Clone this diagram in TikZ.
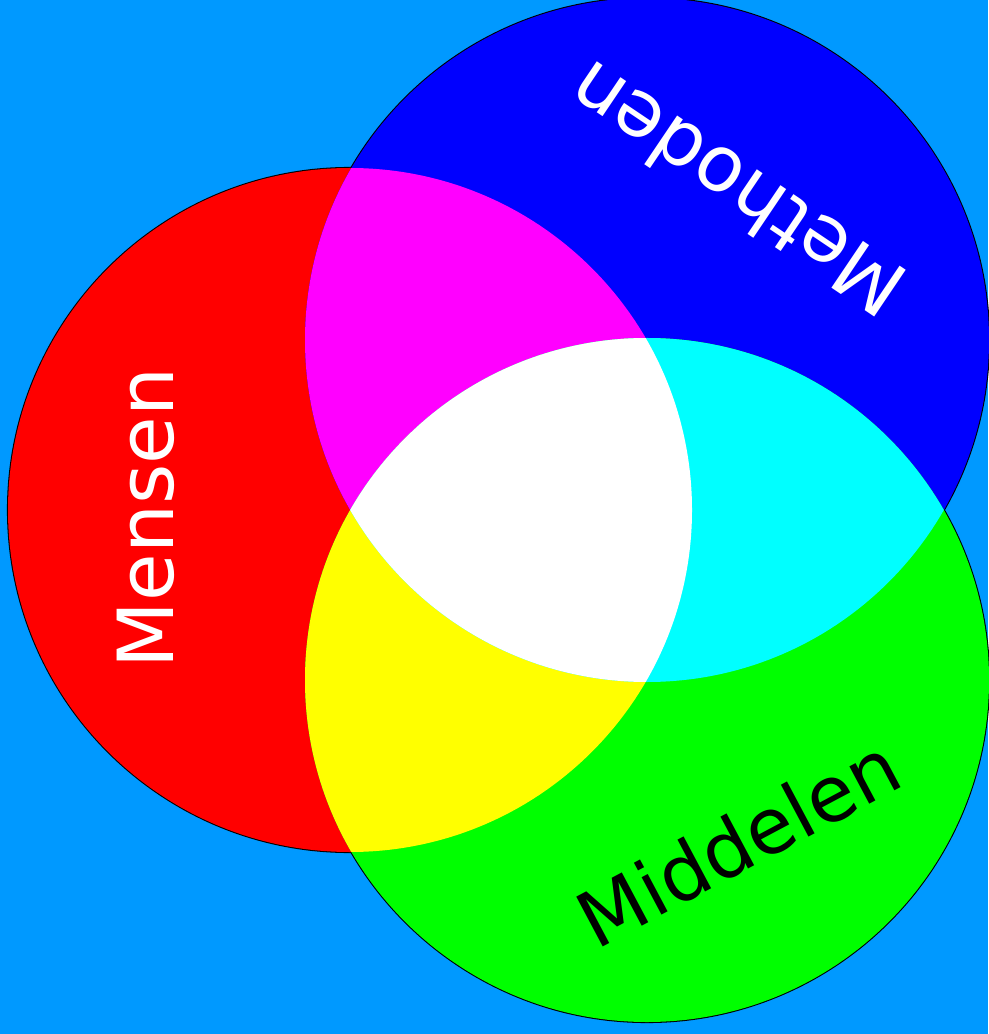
\documentclass[tikz,border=0pt]{standalone}
\usepackage{fontspec}
\setmainfont{DejaVu Sans}
\usepackage{xcolor}
\usepackage{tikz}
\definecolor{skyBg}{RGB}{0,153,255}
\definecolor{rgbRed}{RGB}{255,0,0}
\definecolor{rgbBlue}{RGB}{0,0,255}
\definecolor{rgbGreen}{RGB}{0,255,0}
\definecolor{mixMagenta}{RGB}{255,0,255}
\definecolor{mixYellow}{RGB}{255,255,0}
\definecolor{mixCyan}{RGB}{0,255,255}
\definecolor{mixWhite}{RGB}{255,255,255}

\begin{document}
\begin{tikzpicture}[x=0.01cm,y=-0.01cm,
  disc/.style={draw=black,line width=0.6pt},
  lbl/.style={font=\fontsize{22}{26}\selectfont,inner sep=0pt}]
  \fill[skyBg] (0,0) rectangle (988,1034);
  \useasboundingbox (0,0) rectangle (988,1034);
  \coordinate (cr) at (350,510);
  \coordinate (cb) at (647,340);
  \coordinate (cg) at (647,680);
  % outer rims, then the plain discs over them
  \foreach \c/\col in {cr/rgbRed,cb/rgbBlue,cg/rgbGreen}
    \filldraw[disc,fill=\col] (\c) circle[radius=342];
  \foreach \c/\col in {cr/rgbRed,cb/rgbBlue,cg/rgbGreen}
    \fill[\col] (\c) circle[radius=342];
  % overlaps
  \begin{scope}
    \clip (cr) circle[radius=342];
    \fill[mixMagenta] (cb) circle[radius=342];
    \fill[mixYellow] (cg) circle[radius=342];
  \end{scope}
  \begin{scope}
    \clip (cb) circle[radius=342];
    \fill[mixCyan] (cg) circle[radius=342];
    \clip (cr) circle[radius=342];
    \fill[mixWhite] (cg) circle[radius=342];
  \end{scope}
  \node[lbl,white,rotate=90,anchor=base] (mensen) at (173,518) {Mensen};
  \node[lbl,white,rotate=146] (methoden) at (736,190) {Methoden};
  \node[lbl,black,rotate=28] (middelen) at (738,842) {Middelen};
\end{tikzpicture}
\end{document}
